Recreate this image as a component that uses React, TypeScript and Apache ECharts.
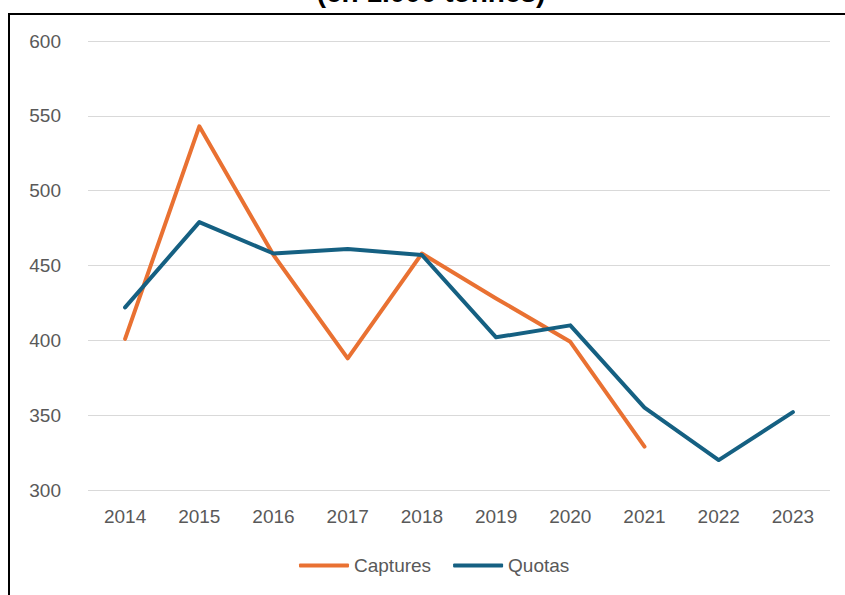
import React, { useEffect, useRef } from "react";
import * as echarts from "echarts";

const years = ["2014", "2015", "2016", "2017", "2018", "2019", "2020", "2021", "2022", "2023"];
const captures = [401, 543, 457, 388, 458, 428, 399, 329, null, null];
const quotas = [422, 479, 458, 461, 457, 402, 410, 355, 320, 352];
const titleText = "(en 1.000 tonnes)";

export default function App() {
  const ref = useRef<HTMLDivElement>(null);
  useEffect(() => {
    document.body.style.margin = "0";
    const chart = echarts.init(ref.current!, null, { renderer: "svg" });
    const font = "'Liberation Sans', Arial, sans-serif";
    chart.setOption({
      animation: false,
      backgroundColor: "#ffffff",
      graphic: [
        {
          type: "rect",
          shape: { x: 9, y: 14, width: 900, height: 700 },
          style: { fill: "none", stroke: "#000000", lineWidth: 2 },
          z: 0,
        },
        {
          type: "text",
          x: 431,
          y: 6,
          style: {
            text: titleText,
            fontFamily: font,
            fontWeight: "bold",
            fontSize: 28,
            fill: "#000000",
            align: "center",
            verticalAlign: "bottom",
          },
        },
      ],
      grid: { left: 88, right: 15, top: 41, bottom: 105, containLabel: false },
      legend: {
        left: 299,
        top: 556,
        padding: 0,
        itemWidth: 50,
        itemHeight: 4,
        itemGap: 22,
        icon: "roundRect",
        textStyle: { color: "#595959", fontSize: 19, fontFamily: font },
        data: [
          { name: "Captures", icon: "roundRect", itemStyle: { color: "#E97132" } },
          { name: "Quotas", icon: "roundRect", itemStyle: { color: "#156082" } },
        ],
      },
      xAxis: {
        type: "category",
        data: years,
        boundaryGap: true,
        axisLine: { show: false },
        axisTick: { show: false },
        axisLabel: { color: "#595959", fontSize: 19, fontFamily: font, margin: 17 },
      },
      yAxis: {
        type: "value",
        min: 300,
        max: 600,
        interval: 50,
        axisLine: { show: false },
        axisTick: { show: false },
        axisLabel: { color: "#595959", fontSize: 19, fontFamily: font, margin: 27 },
        splitLine: { lineStyle: { color: "#D9D9D9", width: 1 } },
      },
      series: [
        {
          name: "Captures",
          type: "line",
          data: captures,
          symbol: "none",
          connectNulls: false,
          color: "#E97132",
          lineStyle: { width: 4, color: "#E97132", cap: "round", join: "round" },
        },
        {
          name: "Quotas",
          type: "line",
          data: quotas,
          symbol: "none",
          color: "#156082",
          lineStyle: { width: 4, color: "#156082", cap: "round", join: "round" },
        },
      ],
    });
    return () => chart.dispose();
  }, []);
  return <div ref={ref} style={{ position: "absolute", left: 0, top: 0, width: 845, height: 595 }} />;
}
